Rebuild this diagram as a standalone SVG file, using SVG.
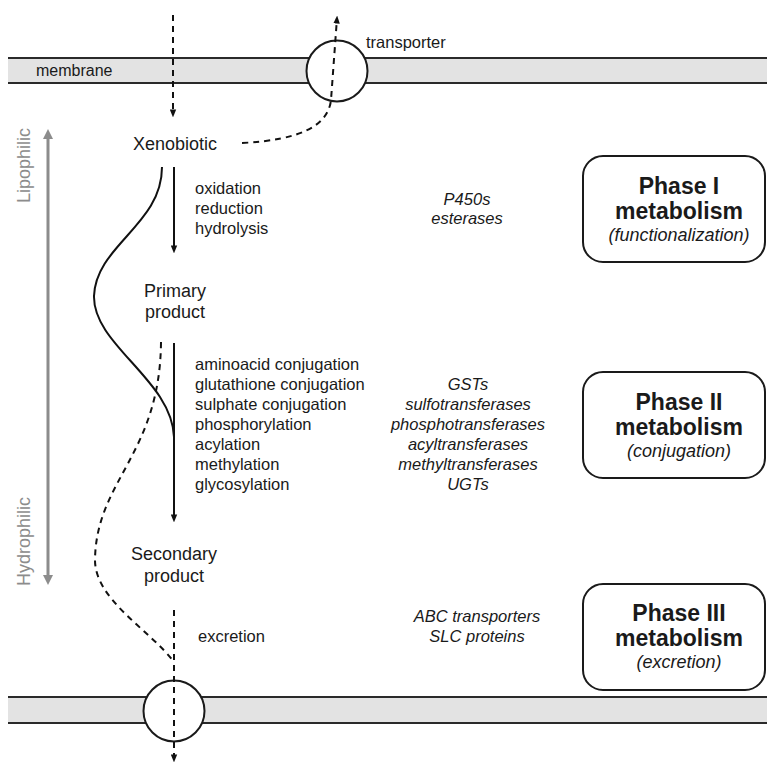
<svg xmlns="http://www.w3.org/2000/svg" width="767" height="765" viewBox="0 0 767 765">
<defs>
<style>
.t{font-family:"Liberation Sans",Arial,sans-serif;fill:#1a1a1a}
.lab{font-size:18px}
.lst{font-size:16.5px}
.enz{font-size:16.5px;font-style:italic;text-anchor:middle}
.ph{font-size:23px;font-weight:bold;text-anchor:middle}
.phs{font-size:18px;font-style:italic;text-anchor:middle}
.gray{font-family:"Liberation Sans",Arial,sans-serif;font-size:18px;fill:#8c8c8c}
.mem{fill:#e3e3e3}
.memline{stroke:#2a2a2a;stroke-width:2}
.tr{fill:#fff;stroke:#1a1a1a;stroke-width:2}
.box{fill:#fff;stroke:#1a1a1a;stroke-width:2}
.solid{fill:none;stroke:#111;stroke-width:2}
.dash{fill:none;stroke:#111;stroke-width:2;stroke-dasharray:6 5}
.garr{fill:none;stroke:#8c8c8c;stroke-width:3}
</style>
<marker id="ah" viewBox="0 0 10 8" refX="7" refY="4" markerWidth="8" markerHeight="7" markerUnits="userSpaceOnUse" orient="auto">
<path d="M0,0 L10,4 L0,8 z" fill="#111"/>
</marker>
<marker id="gh" viewBox="0 0 10 10" refX="6" refY="5" markerWidth="10" markerHeight="11" markerUnits="userSpaceOnUse" orient="auto-start-reverse">
<path d="M0,0 L10,5 L0,10 z" fill="#8c8c8c"/>
</marker>
</defs>

<g id="membrane-top">
<rect class="mem" x="8" y="58" width="760" height="25"/>
<line class="memline" x1="8" y1="58" x2="767" y2="58"/>
<line class="memline" x1="8" y1="83" x2="767" y2="83"/>
<text class="t" x="36" y="76" font-size="16px">membrane</text>
</g>
<g id="membrane-bottom">
<rect class="mem" x="8" y="697" width="760" height="26"/>
<line class="memline" x1="8" y1="697" x2="767" y2="697"/>
<line class="memline" x1="8" y1="723" x2="767" y2="723"/>
</g>
<g id="transporter-top">
<circle class="tr" cx="337" cy="71" r="30.5"/>
<text class="t" x="366" y="48" font-size="16.5px">transporter</text>
</g>
<g id="transporter-bottom">
<circle class="tr" cx="174" cy="711" r="30.5"/>
</g>

<g id="polarity-axis">
<line class="garr" x1="48" y1="133" x2="48" y2="581" marker-start="url(#gh)" marker-end="url(#gh)"/>
<text class="gray" transform="translate(30,203) rotate(-90)">Lipophilic</text>
<text class="gray" transform="translate(30,586) rotate(-90)">Hydrophilic</text>
</g>

<g id="xenobiotic"><text class="t lab" x="175" y="150" text-anchor="middle">Xenobiotic</text></g>
<g id="primary-product">
<text class="t lab" x="175" y="297" text-anchor="middle">Primary</text>
<text class="t lab" x="175" y="318" text-anchor="middle">product</text>
</g>
<g id="secondary-product">
<text class="t lab" x="174" y="560" text-anchor="middle">Secondary</text>
<text class="t lab" x="174" y="582" text-anchor="middle">product</text>
</g>

<g id="phase1-reactions" class="t lst">
<text x="195" y="194">oxidation</text>
<text x="195" y="214">reduction</text>
<text x="195" y="234">hydrolysis</text>
</g>
<g id="phase2-reactions" class="t lst">
<text x="195" y="370">aminoacid conjugation</text>
<text x="195" y="390">glutathione conjugation</text>
<text x="195" y="410">sulphate conjugation</text>
<text x="195" y="430">phosphorylation</text>
<text x="195" y="450">acylation</text>
<text x="195" y="470">methylation</text>
<text x="195" y="490">glycosylation</text>
</g>
<g id="phase3-reactions"><text class="t lst" x="198" y="642">excretion</text></g>

<g id="phase1-enzymes" class="t enz">
<text x="467" y="205">P450s</text>
<text x="467" y="224">esterases</text>
</g>
<g id="phase2-enzymes" class="t enz">
<text x="468" y="390">GSTs</text>
<text x="468" y="410">sulfotransferases</text>
<text x="468" y="430">phosphotransferases</text>
<text x="468" y="450">acyltransferases</text>
<text x="468" y="470">methyltransferases</text>
<text x="468" y="490">UGTs</text>
</g>
<g id="phase3-enzymes" class="t enz">
<text x="477" y="622">ABC transporters</text>
<text x="477" y="642">SLC proteins</text>
</g>

<g id="phase1-box">
<rect class="box" x="583" y="156" width="182" height="106" rx="20"/>
<text class="t ph" x="679" y="194">Phase I</text>
<text class="t ph" x="679" y="219">metabolism</text>
<text class="t phs" x="679" y="241">(functionalization)</text>
</g>
<g id="phase2-box">
<rect class="box" x="583" y="372" width="182" height="106" rx="20"/>
<text class="t ph" x="679" y="410">Phase II</text>
<text class="t ph" x="679" y="435">metabolism</text>
<text class="t phs" x="679" y="457">(conjugation)</text>
</g>
<g id="phase3-box">
<rect class="box" x="583" y="584" width="182" height="106" rx="20"/>
<text class="t ph" x="679" y="621">Phase III</text>
<text class="t ph" x="679" y="646">metabolism</text>
<text class="t phs" x="679" y="668">(excretion)</text>
</g>

<g id="connectors">
<line class="dash" x1="173" y1="15" x2="173" y2="115" marker-end="url(#ah)"/>
<path class="dash" d="M242,143 C 300,140 328,126 331,100 L 337,18" marker-end="url(#ah)"/>
<line class="solid" x1="174" y1="167" x2="174" y2="251" marker-end="url(#ah)"/>
<line class="solid" x1="174" y1="343" x2="174" y2="520" marker-end="url(#ah)"/>
<path class="solid" d="M162,167 C 162,225 96,245 94,296 C 93,345 172,380 174,437"/>
<path class="dash" d="M161,342 C 160,455 96,480 95,560 C 95,600 150,630 174,662"/>
<line class="dash" x1="174" y1="610" x2="174" y2="760" marker-end="url(#ah)"/>
</g>
</svg>
